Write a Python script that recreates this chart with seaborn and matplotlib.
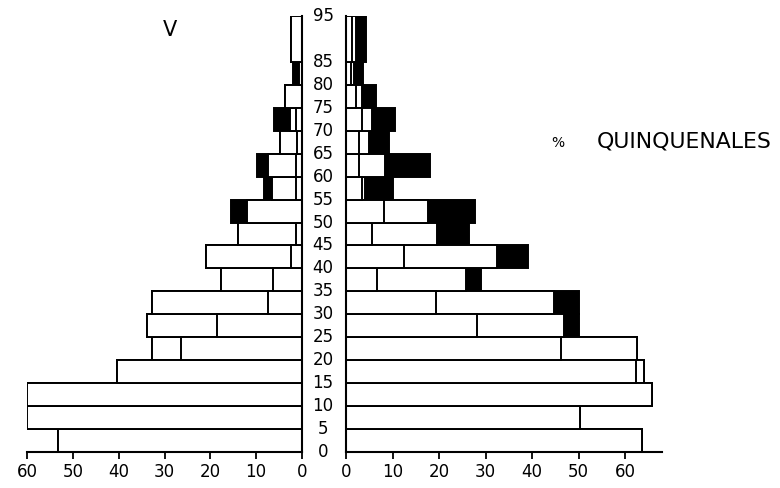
import pandas as pd
import matplotlib
matplotlib.use("Agg")
from matplotlib import pyplot as plt
from matplotlib import transforms
import seaborn as sns

sns.set_style('white')
plt.rcParams['font.family'] = ['DejaVu Sans']
plt.rcParams['text.color'] = 'black'
plt.rcParams['xtick.color'] = 'black'
plt.rcParams['xtick.labelcolor'] = 'black'

# grupos de edad: limite inferior y amplitud (el ultimo es 85-94)
edad_inicio = [0, 5, 10, 15, 20, 25, 30, 35, 40, 45, 50, 55, 60, 65, 70, 75, 80, 85]
edad_amplitud = [5, 5, 5, 5, 5, 5, 5, 5, 5, 5, 5, 5, 5, 5, 5, 5, 5, 10]
etiquetas_edad = [0, 5, 10, 15, 20, 25, 30, 35, 40, 45, 50, 55, 60, 65, 70, 75, 80, 85, 95]

# V (izquierda): solteros, casados, viudos
v_solteros = [53.3, 60.0, 60.0, 40.3, 26.3, 18.5, 7.5, 6.3, 2.5, 1.4, 0.0, 1.3, 1.3, 1.2, 1.3, 0.0, 0.7, 2.5]
v_casados = [0.0, 0.0, 0.0, 0.0, 6.5, 15.4, 25.3, 11.4, 18.5, 12.5, 12.1, 5.3, 6.1, 3.6, 1.3, 3.7, 0.0, 0.0]
v_viudos = [0.0, 0.0, 0.0, 0.0, 0.0, 0.0, 0.0, 0.0, 0.0, 0.0, 3.4, 1.6, 2.5, 0.0, 3.5, 0.0, 1.2, 0.0]

# M (derecha): solteras, casadas, viudas
m_solteras = [63.6, 50.3, 65.7, 62.4, 46.2, 28.1, 19.3, 6.6, 12.5, 5.6, 8.1, 3.4, 2.8, 2.8, 3.4, 2.2, 1.0, 1.3]
m_casadas = [0.0, 0.0, 0.0, 1.7, 16.3, 18.8, 25.5, 19.2, 19.9, 13.9, 9.6, 0.7, 5.6, 2.1, 2.1, 1.2, 0.8, 0.9]
m_viudas = [0.0, 0.0, 0.0, 0.0, 0.0, 3.1, 5.2, 3.3, 6.6, 7.0, 10.1, 6.1, 9.7, 4.3, 5.1, 3.1, 1.8, 2.1]

ticks_x = [0, 10, 20, 30, 40, 50, 60]


def piramide(ax, solt, cas, viu):
    df = pd.DataFrame({'inicio': edad_inicio, 'alto': edad_amplitud,
                       'solt': solt, 'cas': cas, 'viu': viu})
    df['centro'] = df['inicio'] + df['alto'] / 2
    df['c1'] = df['solt']
    df['c2'] = df['solt'] + df['cas']
    df['c3'] = df['c2'] + df['viu']
    # primero el total (negro), luego se tapan las capas interiores en blanco
    for col, color in [('c3', 'black'), ('c2', 'white'), ('c1', 'white')]:
        for alto, sub in df.groupby('alto'):
            w = 1 if len(sub) > 1 else alto
            sns.barplot(data=sub, x=col, y='centro', orient='h', native_scale=True,
                        width=w, color=color, saturation=1, errorbar=None,
                        edgecolor='black', linewidth=1.4, ax=ax)
    ax.set(xlabel='', ylabel='')
    ax.set_ylim(0, 95)
    ax.set_yticks([])
    ax.set_xticks(ticks_x)
    ax.set_xticklabels([str(t) for t in ticks_x], fontsize=12)
    ax.tick_params(axis='x', bottom=True, direction='out', length=5, width=1.3, pad=3)
    for s in ax.spines.values():
        s.set_linewidth(1.5)
        s.set_color('black')


fig = plt.figure(figsize=(7.8, 4.88), dpi=100)
abajo = 1 - 452 / 488
alto_ax = 436 / 488
axL = fig.add_axes([27 / 780, abajo, 275 / 780, alto_ax])
axR = fig.add_axes([346 / 780, abajo, 316 / 780, alto_ax])

piramide(axL, v_solteros, v_casados, v_viudos)
piramide(axR, m_solteras, m_casadas, m_viudas)

axL.set_xlim(60, 0)
axR.set_xlim(0, 67.9)
axL.spines['top'].set_visible(False)
axL.spines['left'].set_visible(False)
axR.spines['top'].set_visible(False)
axR.spines['right'].set_visible(False)

# etiquetas de edad en el centro
tr = transforms.blended_transform_factory(fig.transFigure, axL.transData)
for e in etiquetas_edad:
    fig.text(323 / 780, e, str(e), transform=tr, ha='center', va='center', fontsize=12)

fig.text(170 / 780, 1 - 30 / 488, 'V', ha='center', va='center', fontsize=15)
fig.text(558 / 780, 1 - 143 / 488, '%', ha='center', va='center', fontsize=10)
fig.text(597 / 780, 1 - 142 / 488, 'QUINQUENALES', ha='left', va='center', fontsize=15.8)

fig.savefig('out.png', dpi=100)
